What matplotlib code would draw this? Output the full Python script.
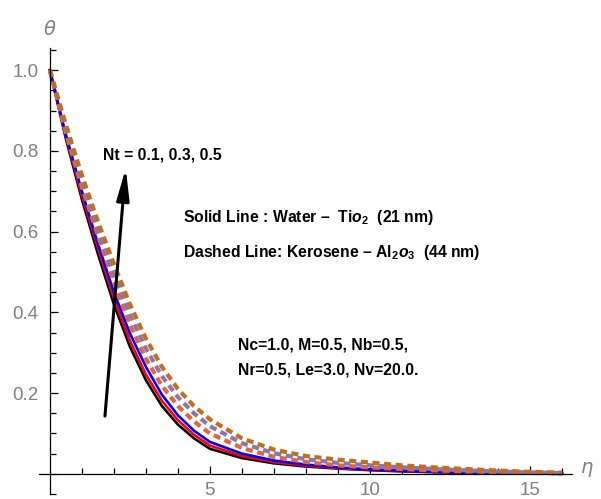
import matplotlib
matplotlib.use("Agg")
import matplotlib.pyplot as plt

plt.rcParams['font.family'] = ['Liberation Sans', 'DejaVu Sans']
plt.rcParams['mathtext.fontset'] = 'custom'
plt.rcParams['mathtext.rm'] = 'Liberation Sans:bold'
plt.rcParams['mathtext.it'] = 'Liberation Sans:italic:bold'
plt.rcParams['mathtext.bf'] = 'Liberation Sans:bold'

# eta grid and theta profiles
eta = [0, 0.5, 1, 1.5, 2, 2.5, 3, 3.5, 4, 4.5, 5, 6, 7, 8, 9, 10, 11, 12, 13, 14, 15, 16]

# solid lines: Water - TiO2, Nt = 0.1, 0.3, 0.5
water_01 = [1.0, 0.83, 0.68, 0.545, 0.42, 0.315, 0.232, 0.168, 0.122, 0.088, 0.062, 0.039, 0.026, 0.018, 0.013, 0.009, 0.006, 0.004, 0.0027, 0.0015, 0.0007, 0.0]
water_03 = [1.0, 0.835, 0.69, 0.56, 0.435, 0.33, 0.246, 0.181, 0.133, 0.097, 0.07, 0.044, 0.029, 0.02, 0.014, 0.01, 0.007, 0.0047, 0.003, 0.0017, 0.0008, 0.0]
water_05 = [1.0, 0.84, 0.70, 0.57, 0.45, 0.348, 0.265, 0.196, 0.145, 0.107, 0.079, 0.05, 0.033, 0.023, 0.016, 0.011, 0.0078, 0.0053, 0.0034, 0.002, 0.001, 0.0]

# dashed lines: Kerosene - Al2O3, Nt = 0.1, 0.3, 0.5
kero_01 = [1.0, 0.845, 0.71, 0.59, 0.475, 0.37, 0.285, 0.218, 0.168, 0.13, 0.1, 0.064, 0.042, 0.029, 0.021, 0.016, 0.012, 0.0085, 0.006, 0.004, 0.002, 0.001]
kero_03 = [1.0, 0.855, 0.725, 0.605, 0.495, 0.395, 0.31, 0.242, 0.19, 0.15, 0.118, 0.076, 0.051, 0.036, 0.027, 0.021, 0.016, 0.012, 0.0085, 0.0058, 0.0035, 0.002]
kero_05 = [1.0, 0.865, 0.74, 0.625, 0.52, 0.42, 0.335, 0.265, 0.21, 0.168, 0.135, 0.088, 0.06, 0.044, 0.035, 0.028, 0.021, 0.016, 0.012, 0.008, 0.005, 0.003]

solid_colors = ['black', '#ff0000', '#0000ff']
dashed_colors = ['#EB6235', '#8778B3', '#C56E1A']

fig = plt.figure(figsize=(6.01, 4.99), dpi=100)
ax = fig.add_axes([39 / 601, 5 / 499, 533 / 601, 446 / 499])

for y, c in zip([water_01, water_03, water_05], solid_colors):
    ax.plot(eta, y, color=c, lw=1.9, solid_joinstyle='round')
for y, c in zip([kero_01, kero_03, kero_05], dashed_colors):
    ax.plot(eta, y, color=c, lw=3.0, dashes=(1.7, 1.1), dash_capstyle='butt')

ax.set_xlim(-0.34, 16.31)
ax.set_ylim(-0.05, 1.055)

for s in ['top', 'right']:
    ax.spines[s].set_visible(False)
ax.spines['left'].set_position(('data', 0))
ax.spines['bottom'].set_position(('data', 0))
ax.spines['left'].set_linewidth(0.9)
ax.spines['bottom'].set_linewidth(0.9)

ax.set_xticks([5, 10, 15])
ax.set_xticks(range(1, 17), minor=True)
ax.set_yticks([0.2, 0.4, 0.6, 0.8, 1.0])
ax.set_yticklabels(['0.2', '0.4', '0.6', '0.8', '1.0'])
ax.set_yticks([i * 0.05 for i in range(-1, 22)], minor=True)
ax.tick_params(which='both', direction='in', color='black', width=0.9,
               labelcolor='#808080', labelsize=13.5)
ax.tick_params(which='major', length=6)
ax.tick_params(which='minor', length=4)
ax.tick_params(axis='x', pad=6)
ax.tick_params(axis='y', pad=8)

ax.text(16.55, 0.01, r'$\eta$', fontsize=14, color='#808080', ha='left', va='center',
        math_fontfamily='dejavusans')
ax.text(0, 1.10, r'$\theta$', fontsize=14, color='#808080', ha='center', va='center',
        math_fontfamily='dejavusans')

# arrow for increasing Nt
ax.annotate('', xy=(2.37, 0.757), xytext=(1.72, 0.143),
            arrowprops=dict(arrowstyle='-|>,head_length=1.9,head_width=0.38',
                            color='black', lw=2.2, mutation_scale=10,
                            shrinkA=0, shrinkB=0))

fs = 11.3
ax.text(1.66, 0.79, 'Nt = 0.1, 0.3, 0.5', fontsize=fs, fontweight='bold', va='center')
ax.text(4.16, 0.636, 'Solid Line : Water \u2013  Ti$\\mathit{o}_2$  (21 nm)',
        fontsize=fs, fontweight='bold', va='center')
ax.text(4.16, 0.549, 'Dashed Line: Kerosene \u2013 Al$_2$$\\mathit{o}_3$  (44 nm)',
        fontsize=fs, fontweight='bold', va='center')
ax.text(5.88, 0.319, 'Nc=1.0, M=0.5, Nb=0.5,', fontsize=fs, fontweight='bold', va='center')
ax.text(5.88, 0.257, 'Nr=0.5, Le=3.0, Nv=20.0.', fontsize=fs, fontweight='bold', va='center')

fig.savefig('out.png', dpi=100)
